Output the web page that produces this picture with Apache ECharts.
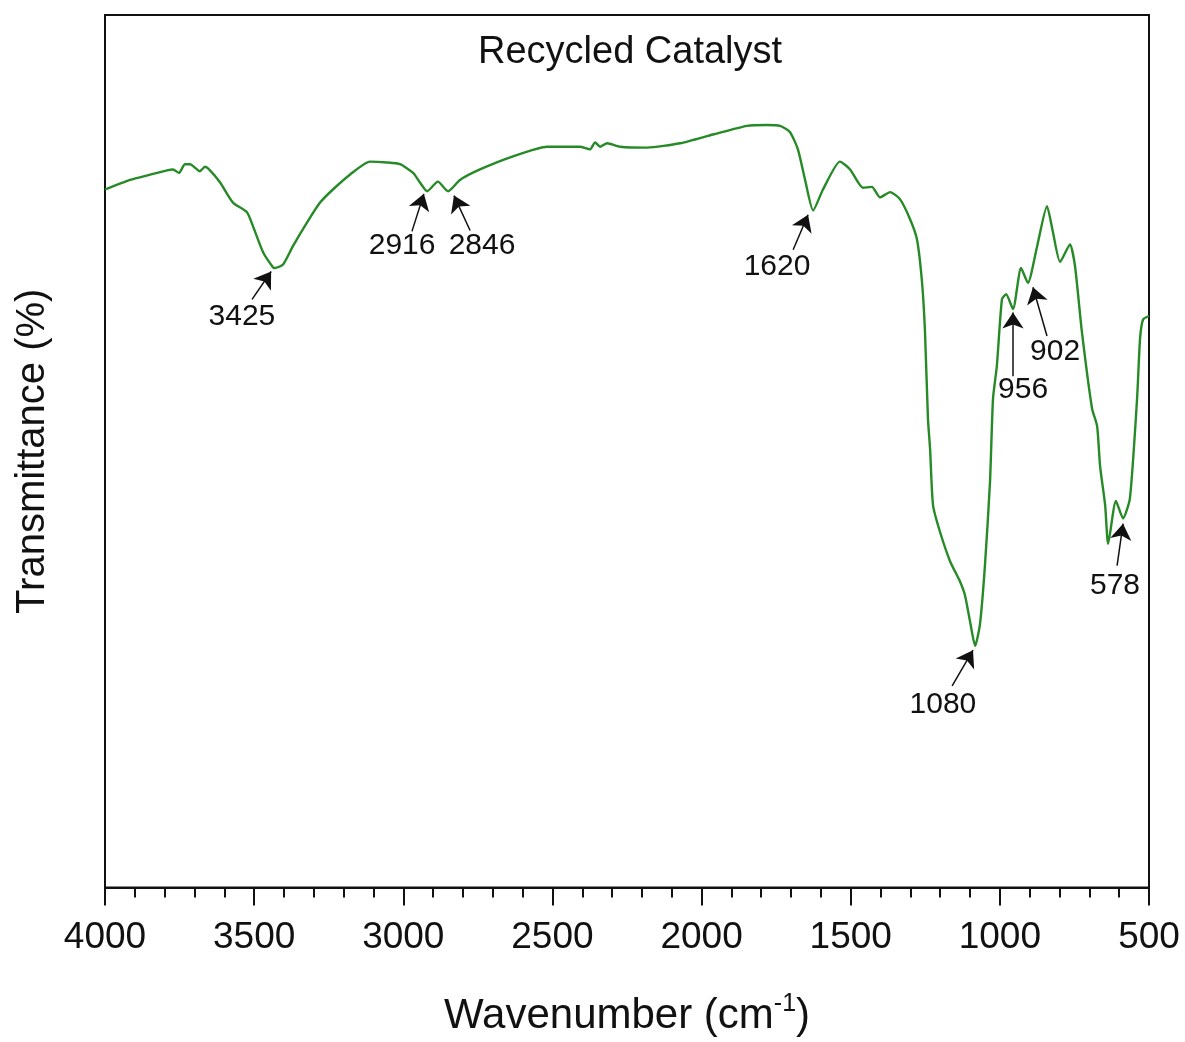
<!DOCTYPE html>
<html>
<head>
<meta charset="utf-8">
<title>Recycled Catalyst FTIR</title>
<script src="https://cdn.jsdelivr.net/npm/echarts@6/dist/echarts.min.js"></script>
<style>
  html, body { margin: 0; padding: 0; background: #fff; }
  #chart { width: 1185px; height: 1042px; }
</style>
</head>
<body>
<div id="chart"></div>
<script>
// spectrum (cm-1, arbitrary %T)
const wavenumber = [
  4000, 3916, 3849, 3792, 3772, 3752, 3732, 3715, 3682, 3665, 3648, 3614, 3571, 3524, 3504, 3470,
  3437, 3430, 3403, 3370, 3323, 3279, 3236, 3179, 3112, 3055, 3011, 2967, 2944, 2920, 2884, 2850,
  2810, 2743, 2632, 2518, 2408, 2374, 2357, 2340, 2317, 2273, 2183, 2072, 1962, 1848, 1781, 1737,
  1704, 1677, 1653, 1626, 1593, 1536, 1502, 1459, 1429, 1402, 1368, 1335, 1301, 1278, 1261, 1251,
  1241, 1234, 1224, 1201, 1167, 1134, 1117, 1100, 1083, 1067, 1050, 1033, 1023, 1010, 993, 979,
  956, 929, 906, 875, 842, 822, 798, 765, 748, 725, 691, 674, 664, 647, 637, 611,
  587, 564, 540, 530, 520, 500
]
const transmittance = [
  80.0, 81.1, 81.7, 82.2, 82.3, 81.9, 82.9, 82.9, 82.1, 82.6, 82.2, 80.8, 78.5, 77.4, 75.8, 72.8,
  71.1, 71.0, 71.4, 73.5, 76.2, 78.5, 80.0, 81.7, 83.2, 83.1, 82.9, 81.9, 80.8, 79.8, 80.9, 79.8,
  81.1, 82.3, 83.8, 84.9, 84.9, 84.6, 85.4, 84.9, 85.3, 84.9, 84.8, 85.3, 86.3, 87.3, 87.4, 87.3,
  86.6, 84.6, 81.1, 77.6, 80.0, 83.2, 82.3, 80.2, 80.3, 79.1, 79.7, 78.9, 76.6, 74.3, 69.4, 63.7,
  53.7, 50.3, 43.8, 40.8, 37.4, 35.1, 33.5, 30.5, 27.7, 30.1, 36.9, 46.5, 56.0, 59.8, 67.4, 68.0,
  66.3, 71.0, 69.3, 73.5, 78.1, 75.1, 71.7, 73.7, 71.2, 63.7, 54.9, 52.9, 48.3, 43.8, 39.4, 44.3,
  42.3, 44.6, 56.0, 62.9, 65.1, 65.5
]

// peak annotations: label, label centre, arrow tail, arrow tip
const peakLabels = ['3425', '2916', '2846', '1620', '1080', '956', '902', '578']
const labelPos = [[3541, 65.4], [3004, 73.6], [2736, 73.6], [1747, 71.2], [1191, 20.9], [922, 57.1], [815, 61.4], [614, 34.6]]
const arrowFrom = [[3507, 67.4], [2971, 75.2], [2776, 75.3], [1693, 73.1], [1160, 23.1], [956, 58.6], [842, 63.2], [607, 36.9]]
const arrowTo = [[3443, 70.6], [2931, 79.5], [2830, 79.3], [1643, 77.1], [1090, 27.2], [956, 65.9], [889, 68.8], [587, 41.7]]

const FONT = "'Liberation Sans', Arial, sans-serif"

const chart = echarts.init(document.getElementById('chart'))

const option = {
  backgroundColor: '#fff',
  animation: false,
  title: {
    text: 'Recycled Catalyst',
    left: 473,
    top: 29,
    textStyle: { fontFamily: FONT, fontSize: 38, fontWeight: 'normal', color: '#111' }
  },
  grid: {
    left: 105, right: 36, top: 15, bottom: 152,
    show: true, borderColor: '#111', borderWidth: 2, backgroundColor: 'transparent'
  },
  xAxis: {
    type: 'value',
    inverse: true,
    min: 500,
    max: 4000,
    interval: 500,
    name: 'Wavenumber (cm{sup|-1})',
    nameLocation: 'middle',
    nameGap: 104,
    nameTextStyle: {
      fontFamily: FONT, fontSize: 42, color: '#111',
      rich: { sup: { fontFamily: FONT, fontSize: 25, color: '#111', padding: [0, 0, 24, 0] } }
    },
    axisLine: { lineStyle: { color: '#111', width: 2 } },
    axisTick: { inside: false, length: 18, lineStyle: { color: '#111', width: 2 } },
    minorTick: { show: true, splitNumber: 5, length: 10, lineStyle: { color: '#111', width: 2 } },
    axisLabel: {
      fontFamily: FONT, fontSize: 37, color: '#111', margin: 32,
      formatter: v => String(v)
    },
    splitLine: { show: false }
  },
  yAxis: {
    type: 'value',
    min: 0,
    max: 100,
    name: 'Transmittance (%)',
    nameLocation: 'middle',
    nameGap: 52,
    nameTextStyle: { fontFamily: FONT, fontSize: 40, color: '#111' },
    axisLine: { show: true, lineStyle: { color: '#111', width: 2 } },
    axisTick: { show: false },
    axisLabel: { show: false },
    splitLine: { show: false }
  },
  series: [
    {
      name: 'Recycled Catalyst',
      type: 'line',
      data: wavenumber.map((w, i) => [w, transmittance[i]]),
      showSymbol: false,
      smooth: 0.2,
      lineStyle: { color: '#268a26', width: 2.4 },
      z: 3
    },
    {
      name: 'arrows',
      type: 'lines',
      coordinateSystem: 'cartesian2d',
      symbol: ['none', 'arrow'],
      symbolSize: [0, 16],
      lineStyle: { color: '#111', width: 1.5, opacity: 1 },
      itemStyle: { color: '#111' },
      data: arrowFrom.map((p, i) => ({ coords: [p, arrowTo[i]] })),
      z: 4
    },
    {
      name: 'labels',
      type: 'scatter',
      symbolSize: 0,
      itemStyle: { opacity: 1 },
      data: labelPos.map((p, i) => ({ value: p, name: peakLabels[i] })),
      label: {
        show: true,
        position: 'inside',
        formatter: p => p.name,
        fontFamily: FONT,
        fontSize: 30,
        color: '#111',
        opacity: 1
      },
      z: 5
    }
  ]
}

chart.setOption(option)
</script>
</body>
</html>
